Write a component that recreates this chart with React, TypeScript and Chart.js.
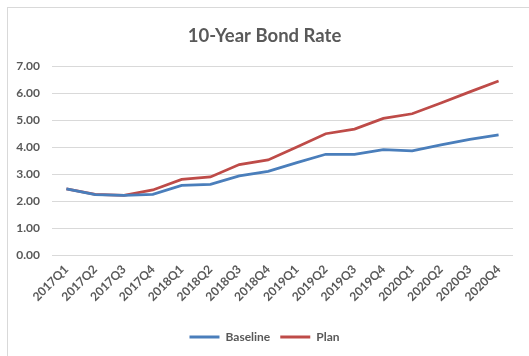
import React, { useEffect, useRef } from "react";
import { Chart, registerables } from "chart.js";

Chart.register(...registerables);

const categories = [
  "2017Q1", "2017Q2", "2017Q3", "2017Q4",
  "2018Q1", "2018Q2", "2018Q3", "2018Q4",
  "2019Q1", "2019Q2", "2019Q3", "2019Q4",
  "2020Q1", "2020Q2", "2020Q3", "2020Q4",
];
const baseline = [2.46, 2.25, 2.22, 2.26, 2.59, 2.63, 2.94, 3.11, 3.43, 3.74, 3.74, 3.91, 3.87, 4.09, 4.29, 4.46];
const plan = [2.46, 2.26, 2.22, 2.42, 2.81, 2.9, 3.36, 3.53, 4.01, 4.5, 4.67, 5.07, 5.24, 5.64, 6.05, 6.45];
const chartTitle = "10-Year Bond Rate";
const seriesNames = ["Baseline", "Plan"];

const FONT = "Lato, 'Open Sans', sans-serif";
const TEXT = "#595959";

export default function App() {
  const ref = useRef<HTMLCanvasElement | null>(null);
  useEffect(() => {
    if (!ref.current) return;
    const chart = new Chart(ref.current, {
      type: "line",
      data: {
        labels: categories,
        datasets: [
          {
            label: seriesNames[0],
            data: baseline,
            borderColor: "#4A7EBB",
            backgroundColor: "#4A7EBB",
            borderWidth: 2.75,
            pointRadius: 0,
            tension: 0,
          },
          {
            label: seriesNames[1],
            data: plan,
            borderColor: "#BE4B48",
            backgroundColor: "#BE4B48",
            borderWidth: 2.75,
            pointRadius: 0,
            tension: 0,
          },
        ],
      },
      options: {
        animation: false,
        responsive: false,
        maintainAspectRatio: false,
        layout: { padding: { top: 10, left: 8, right: 16, bottom: 3 } },
        plugins: {
          title: {
            display: true,
            text: chartTitle,
            color: "#595959",
            font: { family: FONT, size: 18.5, weight: "bold" },
            padding: { top: 7, bottom: 19 },
          },
          legend: {
            position: "bottom",
            labels: {
              color: TEXT,
              font: { family: FONT, size: 12, weight: "bold" },
              boxWidth: 30,
              boxHeight: 3,
              padding: 10,
              generateLabels: (c: any) => {
                const items = Chart.defaults.plugins.legend.labels.generateLabels(c);
                items.forEach((it: any) => {
                  it.lineWidth = 0;
                });
                return items;
              },
            },
          },
          tooltip: { enabled: false },
        },
        scales: {
          x: {
            offset: true,
            grid: { display: false, drawTicks: false },
            border: { display: false },
            ticks: {
              color: TEXT,
              font: { family: FONT, size: 12, weight: "bold" },
              minRotation: 45,
              maxRotation: 45,
              autoSkip: false,
              padding: 7,
            },
            afterFit: (s: any) => {
              s.paddingLeft = 0;
              s.paddingRight = 0;
              s.height = s.height + 10;
            },
          },
          y: {
            min: 0,
            max: 7,
            grid: { color: "#D9D9D9", lineWidth: 1, drawTicks: false },
            border: { display: false },
            ticks: {
              stepSize: 1,
              color: TEXT,
              font: { family: FONT, size: 12, weight: "bold" },
              padding: 12,
              callback: (v: any) => Number(v).toFixed(2),
            },
            afterFit: (s: any) => {
              s.width = 36;
            },
          },
        },
      },
    });
    return () => chart.destroy();
  }, []);

  return (
    <div
      style={{
        position: "absolute",
        left: 7,
        top: 7,
        width: 522,
        height: 349,
        borderTop: "1px solid #D9D9D9",
        borderLeft: "1px solid #D9D9D9",
        boxSizing: "border-box",
        background: "#fff",
      }}
    >
      <canvas ref={ref} width={521} height={348} style={{ display: "block" }} />
    </div>
  );
}
